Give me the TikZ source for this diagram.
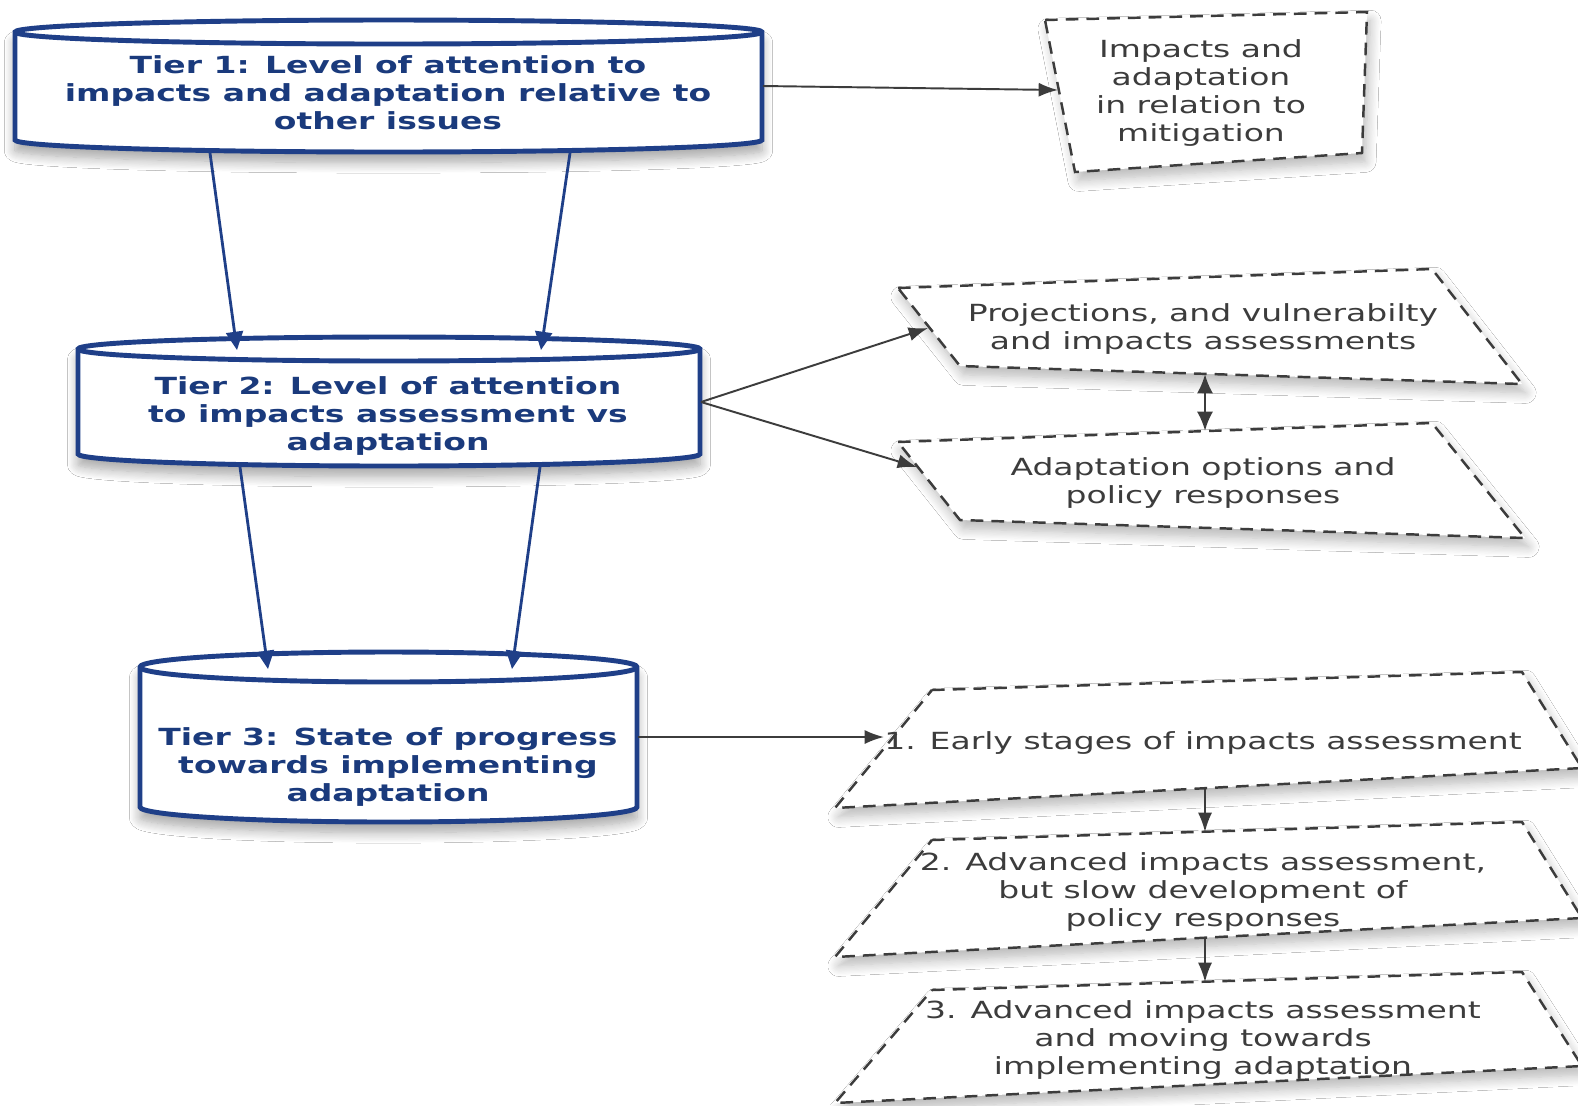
\documentclass[tikz,border=0pt]{standalone}
\usepackage{fontspec}
\setmainfont{DejaVu Sans}[FakeStretch=1.4]
\usetikzlibrary{arrows.meta,shadows.blur}

\definecolor{tierblue}{HTML}{1F3F88}
\definecolor{tiertext}{HTML}{1A3A7C}
\definecolor{boxgray}{HTML}{3C3C3C}

\tikzset{
  tierline/.style={draw=tierblue, line width=1.4pt, fill=white},
  tiershadow/.style={blur shadow={shadow xshift=0pt, shadow yshift=-3pt, shadow blur steps=10, shadow blur radius=3pt, shadow opacity=35}},
  boxshadow/.style={blur shadow={shadow xshift=1pt, shadow yshift=-2.5pt, shadow blur steps=10, shadow blur radius=3pt, shadow opacity=28}},
  tiertxt/.style={text=tiertext, font=\fontsize{6.7}{8}\selectfont\bfseries, align=center, inner sep=0pt},
  dashbox/.style={draw=boxgray, line width=0.7pt, dash pattern=on 3.6pt off 2.3pt, fill=white},
  boxtxt/.style={text=boxgray, font=\fontsize{6.7}{7.9}\selectfont, align=center, inner sep=0pt},
  bluearrow/.style={draw=tierblue, line width=0.8pt, -{Triangle[length=5.2pt,width=4.8pt]}},
  grayarrow/.style={draw=boxgray, line width=0.55pt, -{Latex[length=5.5pt,width=4pt]}},
  graydouble/.style={draw=boxgray, line width=0.8pt, {Latex[length=5.5pt,width=4.6pt]}-{Latex[length=5.5pt,width=4.6pt]}},
}

% left right top bottom ry
\newcommand\tiercyl[5]{%
  \path[tierline, tiershadow] (#1,#3+#5) -- (#1,#4-#5)
    arc[start angle=180, end angle=0, x radius={(#2-#1)/2}, y radius=#5]
    -- (#2,#3+#5)
    arc[start angle=360, end angle=180, x radius={(#2-#1)/2}, y radius=#5] -- cycle;
  \draw[tierline, fill=none] (#1,#3+#5)
    arc[start angle=180, end angle=0, x radius={(#2-#1)/2}, y radius=#5];
}

\begin{document}
\begin{tikzpicture}[x=0.01cm, y=-0.01cm]
\useasboundingbox[fill=white] (0,0) rectangle (1578,1105);

% ---------- tiers ----------
\tiercyl{15}{762}{20}{152}{12}
\tiercyl{78}{700}{337}{466}{12}
\tiercyl{140}{637}{652}{822}{15}

\node[tiertxt] (t1) at (388,93) {Tier 1: Level of attention to\\impacts and adaptation relative to\\other issues};
\node[tiertxt] (t2) at (388,416) {Tier 2: Level of attention\\to impacts assessment vs\\adaptation};
\node[tiertxt] (t3) at (388,767) {Tier 3: State of progress\\towards implementing\\adaptation};

% ---------- right boxes ----------
\path[dashbox, boxshadow] (1045,20) -- (1367,12) -- (1362,153) -- (1075,172) -- cycle;
\node[boxtxt] (mit) at (1201,93) {Impacts and\\adaptation\\in relation to\\mitigation};

\path[dashbox, boxshadow] (898,288) -- (1432,269) -- (1522,384) -- (960,366) -- cycle;
\node[boxtxt] (proj) at (1203,329) {Projections, and vulnerabilty\\and impacts assessments};

\path[dashbox, boxshadow] (898,442) -- (1432,423) -- (1525,538) -- (960,520) -- cycle;
\node[boxtxt] (adapt) at (1203,483) {Adaptation options and\\policy responses};

\path[dashbox, boxshadow] (932,690) -- (1522,672) -- (1582,768) -- (835,808) -- cycle;
\node[boxtxt] (s1) at (1203,743) {1. Early stages of impacts assessment};

\path[dashbox, boxshadow] (932,840) -- (1522,822) -- (1582,918) -- (835,957) -- cycle;
\node[boxtxt] (s2) at (1203,892) {2. Advanced impacts assessment,\\but slow development of\\policy responses};

\path[dashbox, boxshadow] (932,990) -- (1522,972) -- (1582,1066) -- (835,1103) -- cycle;
\node[boxtxt] (s3) at (1203,1040) {3. Advanced impacts assessment\\and moving towards\\implementing adaptation};

% ---------- connector end points ----------
\coordinate (t1a) at (210,153);  \coordinate (t2a) at (237,350);
\coordinate (t1b) at (570,153);  \coordinate (t2b) at (541,350);
\coordinate (t2c) at (240,467);  \coordinate (t3a) at (268,669);
\coordinate (t2d) at (540,467);  \coordinate (t3b) at (512,669);
\coordinate (t1e) at (763,86);   \coordinate (mitw) at (1058,90);
\coordinate (t2e) at (701,402);  \coordinate (projw) at (928,328);
\coordinate (adaptw) at (917,467);
\coordinate (projs) at (1205,374); \coordinate (adaptn) at (1205,431);
\coordinate (t3e) at (638,737);  \coordinate (s1w) at (884,737);
\coordinate (s1s) at (1205,788); \coordinate (s2n) at (1205,832);
\coordinate (s2s) at (1205,938); \coordinate (s3n) at (1205,982);

% ---------- connectors ----------
\draw[bluearrow] (t1a) -- (t2a);
\draw[bluearrow] (t1b) -- (t2b);
\draw[bluearrow] (t2c) -- (t3a);
\draw[bluearrow] (t2d) -- (t3b);
\draw[grayarrow] (t1e) -- (mitw);
\draw[grayarrow] (t2e) -- (projw);
\draw[grayarrow] (t2e) -- (adaptw);
\draw[graydouble] (projs) -- (adaptn);
\draw[grayarrow] (t3e) -- (s1w);
\draw[grayarrow] (s1s) -- (s2n);
\draw[grayarrow] (s2s) -- (s3n);
\end{tikzpicture}
\end{document}
